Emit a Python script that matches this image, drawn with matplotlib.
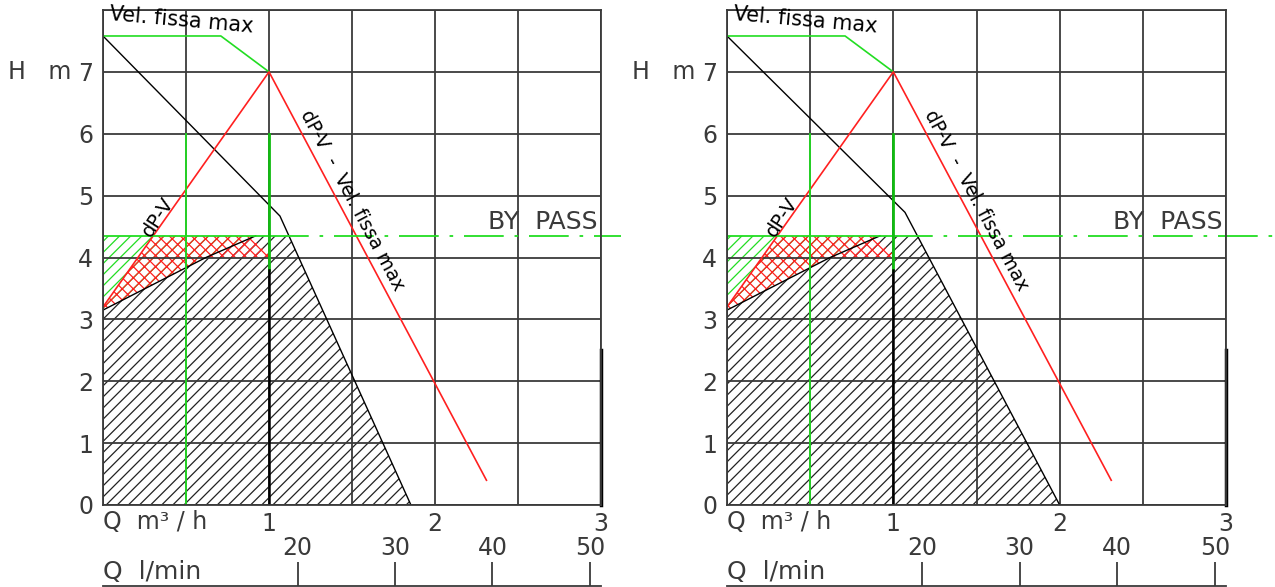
import numpy as np
import matplotlib.pyplot as plt
from matplotlib.patches import Polygon

# curve data (Q in m3/h, H in m)
q_vel = [0.0, 0.71, 1.0]
h_vel = [7.58, 7.58, 7.0]
q_dpv = [0.0, 1.0, 2.31]
h_dpv = [3.2, 7.0, 0.4]
q_min = [0.0, 0.62, 0.92]
h_min = [3.15, 4.0, 4.35]
q_max_left = [0.0, 1.066, 1.855]
h_max_left = [7.58, 4.67, 0.0]
q_max_right = [0.0, 1.07, 2.0]
h_max_right = [7.58, 4.73, 0.0]
h_bypass = 4.35
q_red_edge = [0.88, 1.02]
h_red_edge = [4.35, 4.0]

x_ticks = [0, 0.5, 1, 1.5, 2, 2.5, 3]
x_labels = ['', '', '1', '', '2', '', '3']
y_ticks = [0, 1, 2, 3, 4, 5, 6, 7, 8]
y_labels = ['0', '1', '2', '3', '4', '5', '6', '7', '']
lmin_ticks = [20, 30, 40, 50]
lmin_per_m3h = 17.05  # scale as drawn on the sheet

grey = '#3a3a3a'
green = '#22dd22'
red = '#ff2020'

plt.rcParams['hatch.linewidth'] = 0.9

fig = plt.figure(figsize=(12.75, 5.87), dpi=100)


def draw_chart(ax, q_max, h_max, bypass_end):
    ax.set_xlim(0, 3)
    ax.set_ylim(0, 8)
    ax.set_xticks(x_ticks)
    ax.set_xticklabels(x_labels)
    ax.set_yticks(y_ticks)
    ax.set_yticklabels(y_labels)
    ax.tick_params(length=0, labelsize=17, labelcolor=grey, pad=7)
    ax.tick_params(axis='x', pad=5)
    ax.grid(True, color=grey, lw=1.3)
    for s in ax.spines.values():
        s.set_color(grey)
        s.set_linewidth(1.3)

    # hatched regions
    q_top = np.interp(-h_bypass, -np.array(h_max), q_max)
    black = [(0, 0)] + list(zip(q_min, h_min)) + [(q_top, h_bypass), (q_max[-1], 0)]
    ax.add_patch(Polygon(black, fill=False, edgecolor='#222222', lw=0, hatch='///'))
    grn = [(0, h_min[0]), (0, h_bypass), (q_min[-1], h_bypass)] + list(zip(q_min[::-1], h_min[::-1]))
    ax.add_patch(Polygon(grn, fill=False, edgecolor=green, lw=0, hatch='///'))
    q_cross = np.interp(h_bypass, h_dpv[:2], q_dpv[:2])
    rd = [(0, h_dpv[0]), (q_cross, h_bypass)] + list(zip(q_red_edge, h_red_edge)) \
        + list(zip(q_min[1::-1], h_min[1::-1]))
    ax.add_patch(Polygon(rd, fill=False, edgecolor=red, lw=0, hatch='xxx'))

    # curves
    ax.plot(q_min, h_min, color='black', lw=1)
    ax.plot(q_max, h_max, color='black', lw=1)
    ax.plot(q_vel, h_vel, color=green, lw=1.2)
    ax.plot(q_dpv, h_dpv, color=red, lw=1.2)
    ax.plot([0, 1.0], [h_bypass, h_bypass], color=green, lw=1.3)
    ax.plot([1.0, bypass_end], [h_bypass, h_bypass], color=green, lw=1.3,
            dashes=[22, 6, 2, 6], clip_on=False)
    ax.plot([0.5, 0.5], [0, 6], color=green, lw=1.3)
    ax.plot([1.0, 1.0], [3.8, 6], color='#11bb11', lw=2)
    ax.plot([1.0, 1.0], [0, 3.8], color='black', lw=1.8)
    ax.plot([3, 3], [0, 2.5], color='black', lw=2.5, clip_on=False)

    # labels
    ax.text(0.47, 7.84, 'Vel. fissa max', fontsize=15, rotation=-5,
            ha='center', va='center')
    ax.text(0.33, 4.66, 'dP-V', fontsize=14, rotation=57,
            ha='center', va='center', rotation_mode='anchor')
    ax.text(1.5, 4.93, 'dP-V  -  Vel. fissa max', fontsize=13.5, rotation=-62,
            ha='center', va='center', rotation_mode='anchor')
    ax.text(2.98, 4.57, 'BY  PASS', fontsize=18, color=grey, ha='right', va='center')
    ax.text(0.0, -0.27, 'Q  m³ / h', fontsize=17, color=grey, ha='left', va='center')
    ax.text(-0.57, 7.0, 'H   m', fontsize=17, color=grey, ha='left', va='center')
    ax.text(0.0, -1.09, 'Q  l/min', fontsize=18, color=grey, ha='left', va='center')

    # l/min axis
    sec = ax.secondary_xaxis(-1.31 / 8, functions=(lambda q: q * lmin_per_m3h,
                                                    lambda l: l / lmin_per_m3h))
    sec.set_xticks(lmin_ticks)
    sec.tick_params(axis='x', top=True, bottom=False, labeltop=True, labelbottom=False,
                    direction='out', length=17, width=1.3, color=grey,
                    labelsize=17, labelcolor=grey, pad=2)
    sec.spines['bottom'].set_color(grey)
    sec.spines['bottom'].set_linewidth(1.3)
    sec.spines['top'].set_visible(False)


ax1 = fig.add_axes([103 / 1275, 82 / 587, 498 / 1275, 495 / 587])
draw_chart(ax1, q_max_left, h_max_left, 3.12)
ax2 = fig.add_axes([727 / 1275, 82 / 587, 499 / 1275, 495 / 587])
draw_chart(ax2, q_max_right, h_max_right, 3.3)

fig.savefig('out.png', dpi=100)
